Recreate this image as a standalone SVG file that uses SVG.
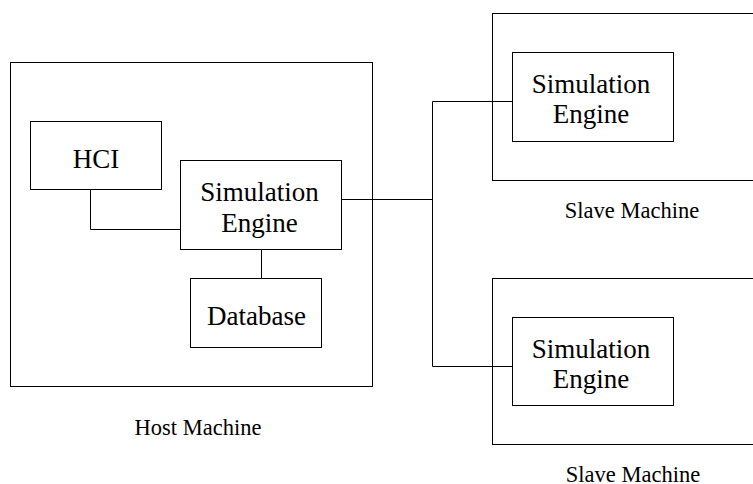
<svg xmlns="http://www.w3.org/2000/svg" width="753" height="484" viewBox="0 0 753 484">
<style>
rect{fill:none;stroke:#000;stroke-width:1}
.c line,.c polyline{fill:none;stroke:#000;stroke-width:1}
text{font-family:"Liberation Serif","Times New Roman",serif;fill:#000;text-anchor:middle}
.n{font-size:27px}
.l{font-size:22.5px}
</style>
<rect width="753" height="484" style="fill:#fff;stroke:none"/>
<g id="host">
<rect x="10.5" y="62.5" width="362" height="324"/>
<text class="l" x="198" y="435">Host Machine</text>
</g>
<g id="hci">
<rect x="30.5" y="121.5" width="131" height="68"/>
<text class="n" x="96" y="167.5">HCI</text>
</g>
<g id="host-engine">
<rect x="180.5" y="160.5" width="161" height="89"/>
<text class="n" x="259.5" y="201">Simulation</text>
<text class="n" x="259.5" y="232">Engine</text>
</g>
<g id="database">
<rect x="190.5" y="278.5" width="131" height="69"/>
<text class="n" x="256.5" y="325">Database</text>
</g>
<g id="slave1">
<rect x="492.5" y="13.5" width="270" height="167"/>
<text class="l" x="632" y="218">Slave Machine</text>
</g>
<g id="slave1-engine">
<rect x="512.5" y="52.5" width="161" height="89"/>
<text class="n" x="591" y="93">Simulation</text>
<text class="n" x="591" y="123">Engine</text>
</g>
<g id="slave2">
<rect x="492.5" y="278.5" width="270" height="166"/>
<text class="l" x="633" y="482">Slave Machine</text>
</g>
<g id="slave2-engine">
<rect x="512.5" y="317.5" width="161" height="88"/>
<text class="n" x="591" y="358">Simulation</text>
<text class="n" x="591" y="388">Engine</text>
</g>
<g class="c" id="connectors">
<polyline points="90.5,190 90.5,229.5 180.5,229.5"/>
<line x1="261.5" y1="250" x2="261.5" y2="278"/>
<line x1="341.5" y1="199.5" x2="432.5" y2="199.5"/>
<polyline points="512.5,101.5 432.5,101.5 432.5,366.5 512.5,366.5"/>
</g>
</svg>
